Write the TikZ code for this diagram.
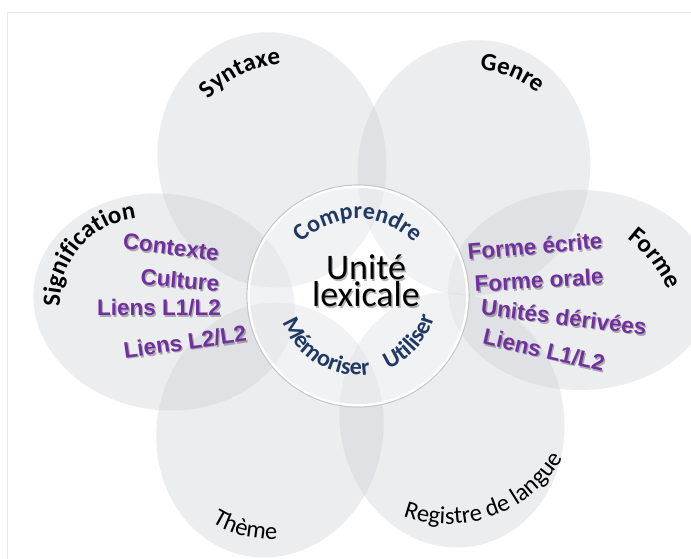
\documentclass[tikz,border=0pt]{standalone}
\usepackage{fontspec}
\newfontfamily\calibri{Carlito}
\newfontfamily\arialf{Liberation Sans}
\usetikzlibrary{decorations.text}
\definecolor{petalc}{RGB}{198,201,208}
\definecolor{purp}{RGB}{112,48,160}
\definecolor{navy}{RGB}{31,56,100}
\definecolor{framec}{RGB}{232,232,232}
\tikzset{
  petal/.style={fill=petalc, fill opacity=0.33},
  purptext/.style={font=\arialf\bfseries\fontsize{22.5}{24}\selectfont, text=purp, inner sep=0pt},
  shadowtext/.style={text=black, text opacity=0.28, xshift=1.3pt, yshift=-1.5pt},
  centertext/.style={font=\calibri\fontsize{36}{36}\selectfont, text=black, inner sep=0pt, anchor=base},
}
% arc text: center, radius, start, end, format, text
\newcommand{\arctext}[6]{%
  \path[decorate, decoration={text along path, text align=center,
    text={|#5|#6}}] (#1) ++(#3:#2) arc[start angle=#3, end angle=#4, radius=#2];}
\newcommand{\ptxt}[4]{%
  \node[purptext, shadowtext, rotate=#3] (#1-s) at (#2) {#4};
  \node[purptext, rotate=#3] (#1) at (#2) {#4};}
\newcommand{\labfont}{\calibri\bfseries\fontsize{25}{25}\selectfont\color{black}}
\newcommand{\labfontr}{\calibri\fontsize{24.5}{25}\selectfont\color{black}}
\newcommand{\navfont}{\calibri\bfseries\fontsize{24}{24}\selectfont\color{navy}}
\begin{document}
\begin{tikzpicture}[x=1pt,y=1pt]
\useasboundingbox (0,0) rectangle (691,559);
\clip (0,0) rectangle (691,559);
\fill[white] (0,0) rectangle (691,559);
% frame
\coordinate (fa) at (7,0);
\coordinate (fb) at (7,547);
\coordinate (fc) at (691,547);
\draw[framec, line width=0.8] (fa) -- (fb) -- (fc);
% petals
\coordinate (syn) at (272,399);
\coordinate (gen) at (474,391);
\coordinate (sig) at (164,257);
\coordinate (for) at (580,269);
\coordinate (the) at (270,129);
\coordinate (reg) at (452,139);
\fill[petal, rotate around={100:(syn)}] (syn) ellipse [x radius=128, y radius=114];
\fill[petal, rotate around={80:(gen)}] (gen) ellipse [x radius=128, y radius=116];
\fill[petal, rotate around={-8:(sig)}] (sig) ellipse [x radius=131, y radius=108];
\fill[petal] (for) ellipse [x radius=132, y radius=100];
\fill[petal, rotate around={78:(the)}] (the) ellipse [x radius=128, y radius=113];
\fill[petal, rotate around={100:(reg)}] (reg) ellipse [x radius=128, y radius=112];
% centre circle
\coordinate (c0) at (358,263);
\fill[white, fill opacity=0.3] (c0) circle (110);
\draw[black!22, line width=1.2] (c0) circle (111);
\draw[white, line width=2.2] (c0) circle (109.3);
% outer labels
\coordinate (asyn) at (288,389);
\coordinate (agen) at (474,391);
\coordinate (afor) at (549,218);
\coordinate (asig) at (145,256);
\coordinate (athe) at (270,131);
\coordinate (areg) at (448,168);
\arctext{asyn}{106}{156}{76}{\labfont}{Syntaxe}
\arctext{agen}{98}{98}{38}{\labfont}{Genre}
\arctext{afor}{129}{68}{8}{\labfont}{Forme}
\arctext{asig}{85}{199}{79}{\labfont}{Signification}
\arctext{athe}{111}{226}{286}{\labfontr}{Thème}
\arctext{areg}{133}{238}{342}{\labfontr}{Registre de langue}
% circle labels
\arctext{c0}{77}{160}{20}{\navfont}{Comprendre}
\arctext{c0}{79}{180}{298}{\navfont}{Mémoriser}
\arctext{c0}{79}{285}{352}{\navfont}{Utiliser}
% centre text
\node[centertext, shadowtext] (unite-s) at (366,279) {Unité};
\node[centertext, shadowtext] (lexi-s) at (366,252) {lexicale};
\node[centertext] (unite) at (366,279) {Unité};
\node[centertext] (lexi) at (366,252) {lexicale};
% purple lists
\ptxt{ctx}{171,312}{-7}{Contexte}
\ptxt{cul}{180,279}{-5}{Culture}
\ptxt{lia}{159,251}{0}{Liens L1/L2}
\ptxt{lib}{185,217}{8}{Liens L2/L2}
\ptxt{fec}{535,313}{5}{Forme écrite}
\ptxt{for}{539,279}{3.5}{Forme orale}
\ptxt{ude}{564,242}{-7}{Unités dérivées}
\ptxt{lic}{544,209}{-13}{Liens L1/L2}
\end{tikzpicture}
\end{document}
